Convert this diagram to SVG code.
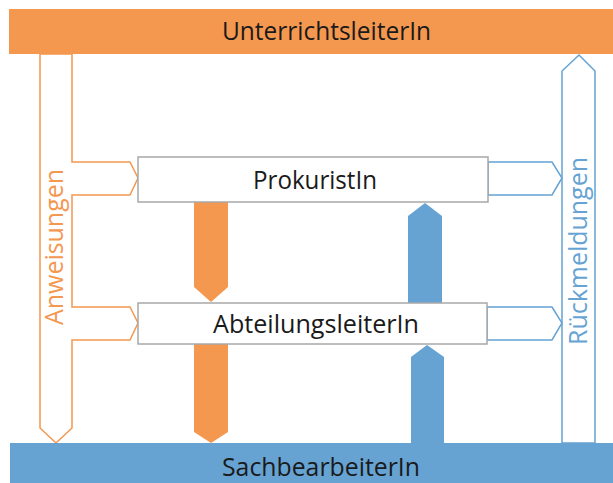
<svg xmlns="http://www.w3.org/2000/svg" width="613" height="483" viewBox="0 0 613 483">
<style>
.lbl{font-family:"Open Sans","Noto Sans","Liberation Sans",sans-serif;font-size:26px;fill:#1a1a1a}
.side{font-family:"Open Sans","Noto Sans","Liberation Sans",sans-serif;font-size:26px}
.oline{fill:#fff;stroke:#F4974F;stroke-width:1.5;stroke-linejoin:miter}
.bline{fill:#fff;stroke:#66A3D3;stroke-width:1.5;stroke-linejoin:miter}
.box{fill:#fff;stroke:#A8A8A8;stroke-width:1.5}
</style>
<rect width="613" height="483" fill="#fff"/>
<g id="connectors">
  <polygon class="oline" points="40,54 72,54 72,162 130,162 138,178 130,195 72,195 72,307 130,307 138,323 130,340 72,340 72,428 56,443 40,428"/>
  <text class="side" fill="#F4974F" transform="translate(63,325) rotate(-90)" textLength="156" lengthAdjust="spacingAndGlyphs">Anweisungen</text>
  <polygon class="bline" points="562,443 562,71 579,55 595,71 595,443"/>
  <polygon class="bline" points="488,162 552,162 562,178 552,195 488,195"/>
  <polygon class="bline" points="487,307 552,307 562,323 552,340 487,340"/>
  <text class="side" fill="#66A3D3" transform="translate(587,345) rotate(-90)" textLength="188" lengthAdjust="spacingAndGlyphs">Rückmeldungen</text>
  <polygon fill="#F4974F" points="194,202 228,202 228,287 211,302 194,287"/>
  <polygon fill="#F4974F" points="194,344 228,344 228,432 211,443 194,432"/>
  <polygon fill="#66A3D3" points="408,303 408,216 425,203 442,216 442,303"/>
  <polygon fill="#66A3D3" points="411,443 411,357 427,345 444,357 444,443"/>
</g>
<g id="unterrichtsleiter">
  <rect x="9" y="9" width="604" height="45" fill="#F4974F"/>
  <text class="lbl" x="222" y="40" textLength="209" lengthAdjust="spacingAndGlyphs">UnterrichtsleiterIn</text>
</g>
<g id="prokurist">
  <rect class="box" x="138" y="157" width="350" height="45"/>
  <text class="lbl" x="253" y="189" textLength="124" lengthAdjust="spacingAndGlyphs">ProkuristIn</text>
</g>
<g id="abteilungsleiter">
  <rect class="box" x="138" y="303" width="349" height="41"/>
  <text class="lbl" x="213" y="333" textLength="206" lengthAdjust="spacingAndGlyphs">AbteilungsleiterIn</text>
</g>
<g id="sachbearbeiter">
  <rect x="10" y="443" width="603" height="40" fill="#66A3D3"/>
  <text class="lbl" x="222" y="476" textLength="198" lengthAdjust="spacingAndGlyphs">SachbearbeiterIn</text>
</g>
</svg>
